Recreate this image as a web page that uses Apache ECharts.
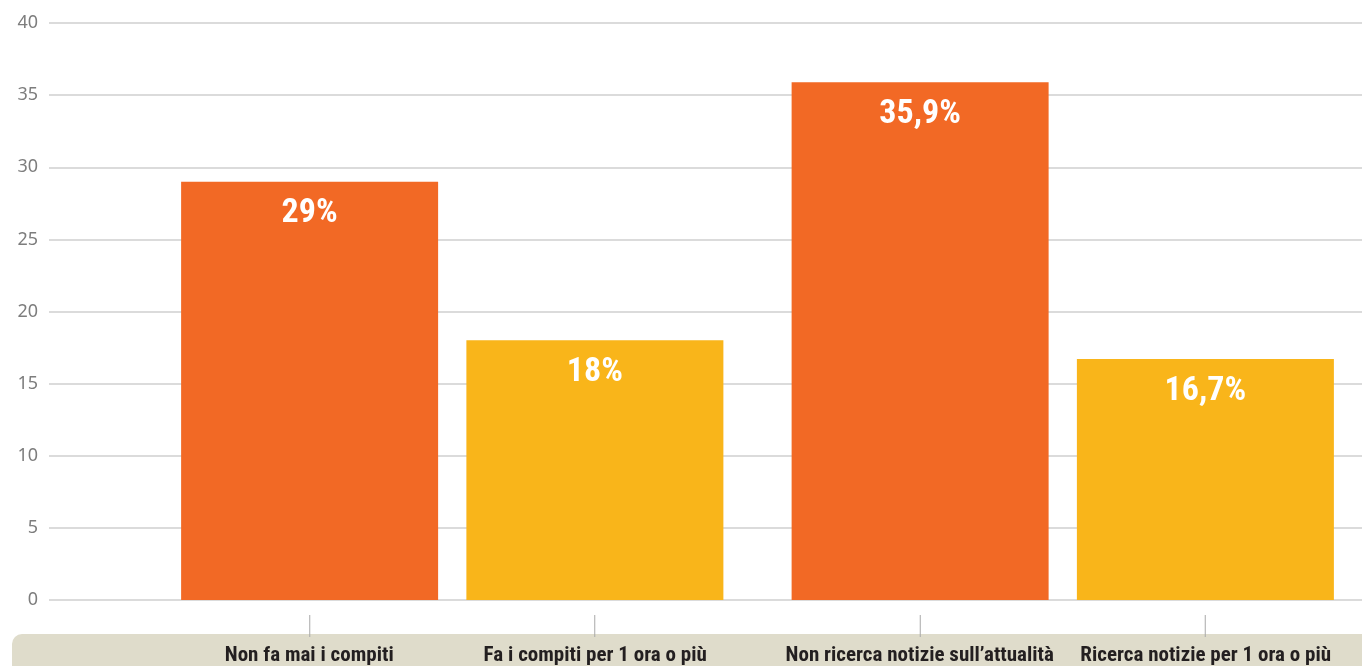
<!DOCTYPE html>
<html>
<head>
<meta charset="utf-8">
<script src="https://cdn.jsdelivr.net/npm/echarts@6/dist/echarts.min.js"></script>
<style>
html,body{margin:0;padding:0;background:#fff;overflow:hidden;width:1362px;height:666px;}
#chart{width:1380px;height:666px;}
</style>
</head>
<body>
<div id="chart"></div>
<script>
// ---- data ----
const groups = ['Compiti', 'Notizie'];
const categoryLabels = ['Non fa mai i compiti', 'Fa i compiti per 1 ora o più', 'Non ricerca notizie sull’attualità', 'Ricerca notizie per 1 ora o più'];
const orangeValues = [29, 35.9];   // "Non fa mai i compiti", "Non ricerca notizie sull’attualità"
const yellowValues = [18, 16.7];   // "Fa i compiti per 1 ora o più", "Ricerca notizie per 1 ora o più"
const yTicks = [0, 5, 10, 15, 20, 25, 30, 35, 40];

const narrow = '"Liberation Sans Narrow", "Roboto Condensed", "DejaVu Sans Condensed", sans-serif';
const fmtPct = v => String(v).replace('.', ',') + '%';

const chart = echarts.init(document.getElementById('chart'), null, {renderer: 'canvas'});

const barLabel = {
  show: true,
  position: 'insideTop',
  distance: 15,
  color: '#ffffff',
  fontFamily: narrow,
  fontWeight: 'bold',
  fontSize: 34,
  formatter: p => fmtPct(p.value)
};

chart.setOption({
  animation: false,
  backgroundColor: '#ffffff',
  graphic: [{
    type: 'rect',
    z: -10,
    left: 12,
    bottom: 0,
    shape: {width: 1370, height: 32, r: [10, 0, 0, 0]},
    style: {fill: '#dfdccb'}
  }],
  grid: [
    {left: 49, right: 18, top: 23, bottom: 66},
    {left: 147, width: 1221, top: 23, bottom: 66}
  ],
  xAxis: [
    {type: 'category', gridIndex: 0, data: groups, show: false},
    {
      type: 'category', gridIndex: 1, data: groups,
      axisLine: {show: false}, axisTick: {show: false},
      axisLabel: {
        interval: 0,
        margin: 15,
        formatter: (v, idx) => '{t|}{s|}{t|}\n{a|' + categoryLabels[idx * 2] + '}{a|' + categoryLabels[idx * 2 + 1] + '}',
        rich: {
          t: {width: 1, height: 22, backgroundColor: '#a8a8a8'},
          s: {width: 284},
          a: {width: 286, align: 'center', fontFamily: narrow, fontWeight: 'bold', fontSize: 21, color: '#231f20', lineHeight: 37}
        }
      }
    }
  ],
  yAxis: [
    {
      type: 'value', gridIndex: 0, min: yTicks[0], max: yTicks[yTicks.length - 1], interval: 5,
      axisLine: {show: false}, axisTick: {show: false},
      axisLabel: {color: '#7d7d7d', fontSize: 18, margin: 11, padding: [6, 0, 0, 0], fontFamily: '"Noto Sans", sans-serif'},
      splitLine: {lineStyle: {color: '#cfcfcf', width: 1.5}}
    },
    {
      type: 'value', gridIndex: 1, min: yTicks[0], max: yTicks[yTicks.length - 1], interval: 5,
      show: false, splitLine: {show: false}
    }
  ],
  series: [
    {
      type: 'bar', xAxisIndex: 1, yAxisIndex: 1,
      data: orangeValues, barWidth: 257, barGap: '11%',
      itemStyle: {color: '#f26925'},
      label: barLabel
    },
    {
      type: 'bar', xAxisIndex: 1, yAxisIndex: 1,
      data: yellowValues, barWidth: 257, barGap: '11%',
      itemStyle: {color: '#f9b51a'},
      label: barLabel
    }
  ]
});
</script>
</body>
</html>
